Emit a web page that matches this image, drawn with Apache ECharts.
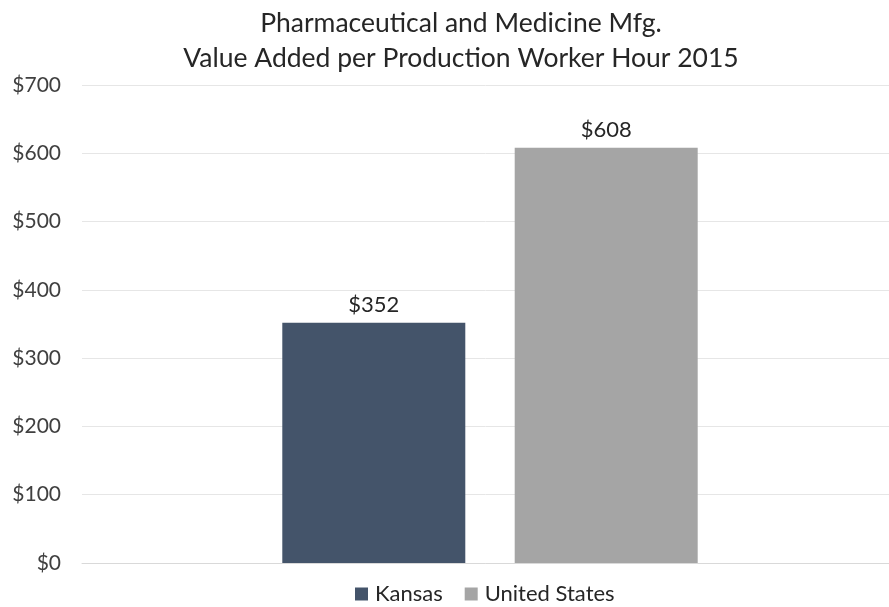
<!DOCTYPE html>
<html>
<head>
<meta charset="utf-8">
<script src="https://cdn.jsdelivr.net/npm/echarts@6/dist/echarts.min.js"></script>
<style>html,body{margin:0;padding:0;background:#fff}#c{width:889px;height:607px}</style>
</head>
<body>
<div id="c"></div>
<script>
const categories = ['2015'];
const seriesNames = ['Kansas', 'United States'];
const kansasValues = [352];
const usValues = [608];
const yTicks = [0, 100, 200, 300, 400, 500, 600, 700];

const font = 'Lato, "Open Sans", sans-serif';
const yMin = yTicks[0], yMax = yTicks[yTicks.length - 1];
const chart = echarts.init(document.getElementById('c'));
chart.setOption({
  animation: false,
  title: {
    text: 'Pharmaceutical and Medicine Mfg.\nValue Added per Production Worker Hour 2015',
    left: 456, top: 1, textAlign: 'center',
    textStyle: { fontFamily: font, fontSize: 26.5, fontWeight: 'normal', color: '#262626', lineHeight: 35 }
  },
  legend: {
    data: seriesNames, bottom: -3, left: 350, itemWidth: 13, itemHeight: 13, itemGap: 22,
    icon: 'rect',
    textStyle: { fontFamily: font, fontSize: 22, color: '#262626', padding: [0, 0, 0, 2] }
  },
  grid: [
    { left: 82, right: 0, top: 85, bottom: 44, containLabel: false },
    { left: 91, right: 0, top: 85, bottom: 44, containLabel: false }
  ],
  xAxis: [
    { type: 'category', data: categories, gridIndex: 0,
      axisLine: { show: true, lineStyle: { color: '#d9d9d9' } },
      axisTick: { show: false }, axisLabel: { show: false } },
    { type: 'category', data: categories, gridIndex: 1,
      axisLine: { show: false }, axisTick: { show: false }, axisLabel: { show: false } }
  ],
  yAxis: [
    { type: 'value', gridIndex: 0, min: yMin, max: yMax, interval: 100,
      axisLine: { show: false }, axisTick: { show: false },
      splitLine: { lineStyle: { color: '#e6e6e6' } },
      axisLabel: { fontFamily: font, fontSize: 21, color: '#404040', margin: 21, formatter: v => '$' + v } },
    { type: 'value', gridIndex: 1, min: yMin, max: yMax, interval: 100,
      axisLine: { show: false }, axisTick: { show: false }, splitLine: { show: false }, axisLabel: { show: false } }
  ],
  series: [
    { name: seriesNames[0], type: 'bar', xAxisIndex: 1, yAxisIndex: 1, data: kansasValues, barWidth: 183, barGap: '27%',
      itemStyle: { color: '#44546A' },
      label: { show: true, position: 'top', distance: 7, fontFamily: font, fontSize: 22, color: '#262626', formatter: p => '$' + p.value } },
    { name: seriesNames[1], type: 'bar', xAxisIndex: 1, yAxisIndex: 1, data: usValues, barWidth: 183,
      itemStyle: { color: '#A5A5A5' },
      label: { show: true, position: 'top', distance: 7, fontFamily: font, fontSize: 22, color: '#262626', formatter: p => '$' + p.value } }
  ]
});
</script>
</body>
</html>
